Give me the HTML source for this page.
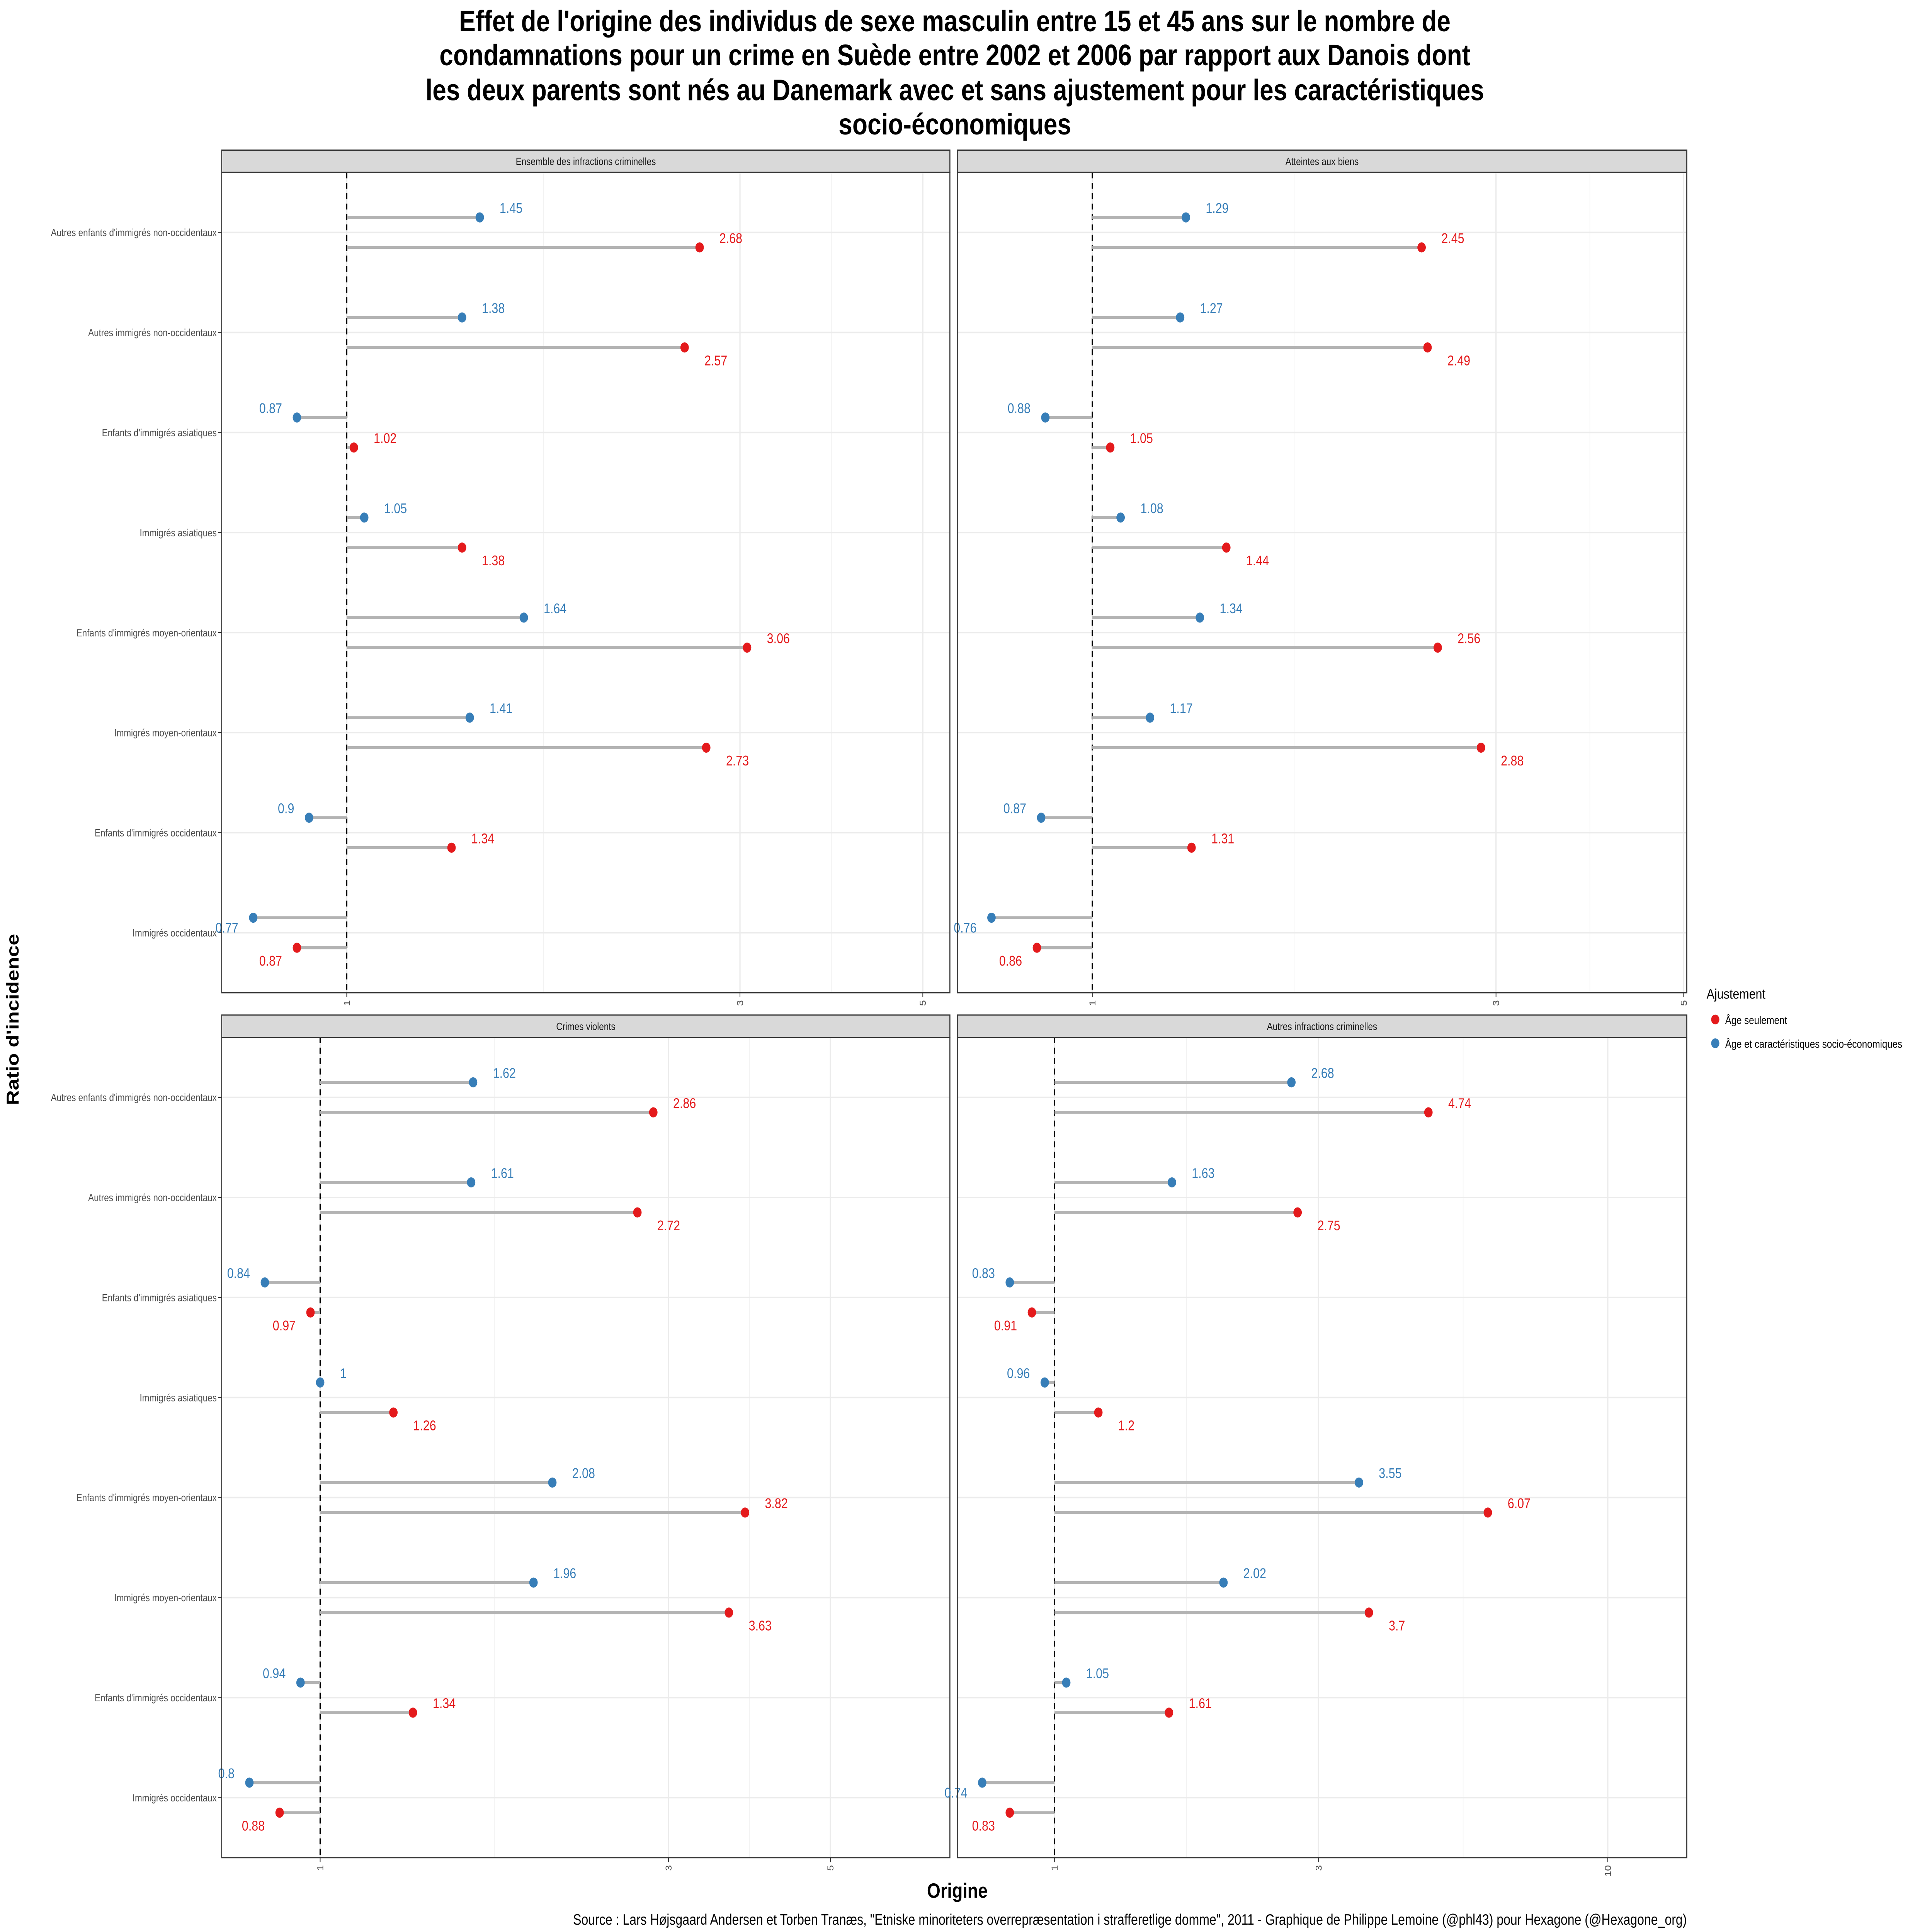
<!DOCTYPE html>
<html><head><meta charset="utf-8"><style>
html,body{margin:0;padding:0;background:#fff;width:100%;height:100%;overflow:hidden}
svg{display:block;width:100vw;height:100vh}
text{font-family:"Liberation Sans",sans-serif}
</style></head><body>
<svg id="chart" xmlns="http://www.w3.org/2000/svg" viewBox="0 0 1560 1300" preserveAspectRatio="none">
<rect width="1560" height="1300" fill="#fff"/>
<g font-weight="bold" font-size="20" text-anchor="middle" fill="#000">
<text x="771" y="21">Effet de l'origine des individus de sexe masculin entre 15 et 45 ans sur le nombre de</text>
<text x="771" y="44">condamnations pour un crime en Suède entre 2002 et 2006 par rapport aux Danois dont</text>
<text x="771" y="67.5">les deux parents sont nés au Danemark avec et sans ajustement pour les caractéristiques</text>
<text x="771" y="90.5">socio-économiques</text>
</g>
<g id="panels"></g>
<text x="773" y="1277" font-size="14" font-weight="bold" text-anchor="middle">Origine</text>
<text transform="translate(15,686) rotate(-90)" font-size="14" font-weight="bold" text-anchor="middle">Ratio d'incidence</text>
<text x="1362" y="1295" font-size="10" text-anchor="end">Source : Lars Højsgaard Andersen et Torben Tranæs, "Etniske minoriteters overrepræsentation i strafferetlige domme", 2011 - Graphique de Philippe Lemoine (@phl43) pour Hexagone (@Hexagone_org)</text>
<g>
<text x="1378" y="672" font-size="9.5">Ajustement</text>
<circle cx="1385" cy="686" r="3.3" fill="#e41a1c"/>
<text x="1393" y="689" font-size="7.5">Âge seulement</text>
<circle cx="1385" cy="702" r="3.3" fill="#377eb8"/>
<text x="1393" y="705" font-size="7.5">Âge et caractéristiques socio-économiques</text>
</g>
</svg>
<script>
const categories = ["Autres enfants d'immigrés non-occidentaux","Autres immigrés non-occidentaux","Enfants d'immigrés asiatiques","Immigrés asiatiques","Enfants d'immigrés moyen-orientaux","Immigrés moyen-orientaux","Enfants d'immigrés occidentaux","Immigrés occidentaux"];
const panelTitles = ["Ensemble des infractions criminelles","Atteintes aux biens","Crimes violents","Autres infractions criminelles"];
const ensembleSocio = [1.45,1.38,0.87,1.05,1.64,1.41,0.9,0.77];
const ensembleAge = [2.68,2.57,1.02,1.38,3.06,2.73,1.34,0.87];
const biensSocio = [1.29,1.27,0.88,1.08,1.34,1.17,0.87,0.76];
const biensAge = [2.45,2.49,1.05,1.44,2.56,2.88,1.31,0.86];
const violentsSocio = [1.62,1.61,0.84,1,2.08,1.96,0.94,0.8];
const violentsAge = [2.86,2.72,0.97,1.26,3.82,3.63,1.34,0.88];
const autresSocio = [2.68,1.63,0.83,0.96,3.55,2.02,1.05,0.74];
const autresAge = [4.74,2.75,0.91,1.2,6.07,3.7,1.61,0.83];
const ticksLeftCol = [1,3,5];
const ticksBR = [1,3,10];

const NS="http://www.w3.org/2000/svg";
const root=document.getElementById('panels');
function mk(tag,attrs,parent,txt){const e=document.createElementNS(NS,tag);for(const k in attrs)e.setAttribute(k,attrs[k]);if(txt!==undefined)e.textContent=txt;parent.appendChild(e);return e;}

const layout=[
 {x0:179,x1:767,y0:116,y1:668,one:280,k:289,ticks:ticksLeftCol,socio:ensembleSocio,age:ensembleAge,ylab:true},
 {x0:773,x1:1362,y0:116,y1:668,one:882,k:296.7,ticks:ticksLeftCol,socio:biensSocio,age:biensAge,ylab:false},
 {x0:179,x1:767,y0:698,y1:1250,one:258.5,k:256,ticks:ticksLeftCol,socio:violentsSocio,age:violentsAge,ylab:true},
 {x0:773,x1:1362,y0:698,y1:1250,one:851.5,k:194,ticks:ticksBR,socio:autresSocio,age:autresAge,ylab:false}
];

layout.forEach((p,pi)=>{
 const g=mk('g',{},root);
 
 
 const xs=v=>p.one+p.k*Math.log(v);
 const unit=(p.y1-p.y0)/8.2;
 const ys=i=>p.y0+(0.6+i)*unit;
 mk('rect',{x:p.x0,y:p.y0,width:p.x1-p.x0,height:p.y1-p.y0,fill:'#fff'},g);
 const tx=p.ticks.map(xs);
 for(let i=0;i<tx.length-1;i++){const m=(tx[i]+tx[i+1])/2;const l=mk('line',{x1:m,x2:m,y1:p.y0,y2:p.y1,stroke:'#f2f2f2','stroke-width':0.5},g);}
 p.ticks.forEach(t=>{const x=xs(t);
  const l=mk('line',{x1:x,x2:x,y1:p.y0,y2:p.y1,stroke:'#ebebeb','stroke-width':1},g);
  
  mk('line',{x1:x,x2:x,y1:p.y1,y2:p.y1+3,stroke:'#333','stroke-width':0.6},g);
  const tl=mk('text',{transform:`translate(${x+2.5},${p.y1+5}) rotate(-90)`,'font-size':7,'text-anchor':'end',fill:'#4d4d4d'},g,String(t));
  
 });
 categories.forEach((c,i)=>{const y=ys(i);
  const l=mk('line',{x1:p.x0,x2:p.x1,y1:y,y2:y,stroke:'#ebebeb','stroke-width':1},g);
  
  if(p.ylab){
   mk('line',{x1:p.x0-3,x2:p.x0,y1:y,y2:y,stroke:'#333','stroke-width':0.6},g);
   const t=mk('text',{x:p.x0-4,y:y+2.5,'font-size':7,'text-anchor':'end',fill:'#4d4d4d'},g,c);
   
  }
 });
 const ref=mk('line',{x1:p.one,x2:p.one,y1:p.y0,y2:p.y1,stroke:'#000','stroke-width':1,'stroke-dasharray':'4,3'},g);
 
 const series=[{vals:p.socio,col:'#377eb8',dy:-0.15,name:'socio'},{vals:p.age,col:'#e41a1c',dy:0.15,name:'age'}];
 series.forEach(s=>{
  s.vals.forEach((v,i)=>{
   const y=ys(i+s.dy);const x=xs(v);
   const seg=mk('line',{x1:p.one,x2:x,y1:y,y2:y,stroke:'#b3b3b3','stroke-width':2},g);
   
   const dot=mk('circle',{cx:x,cy:y,r:3.4,fill:s.col},g);
   
   let lx,ly,anchor;
   if(v>=1){lx=x+16;anchor='start';}else{lx=x-12;anchor='end';}
   if(s.name==='socio'){ly=(v<0.8)?y+10:y-3;}else{ly=(i%2===0&&v>=1)?y-3:y+12;}
   const lab=mk('text',{x:lx,y:ly,'font-size':9.5,'text-anchor':anchor,fill:s.col},g,String(v));
   
  });
 });
 mk('rect',{x:p.x0,y:p.y0,width:p.x1-p.x0,height:p.y1-p.y0,fill:'none',stroke:'#333','stroke-width':0.8},g);
 const st=mk('rect',{x:p.x0,y:p.y0-15,width:p.x1-p.x0,height:15,fill:'#d9d9d9',stroke:'#333','stroke-width':0.8},g);
 
 const stt=mk('text',{x:(p.x0+p.x1)/2,y:p.y0-5,'font-size':7,'text-anchor':'middle',fill:'#1a1a1a'},g,panelTitles[pi]);
 
});
</script>
</body></html>
